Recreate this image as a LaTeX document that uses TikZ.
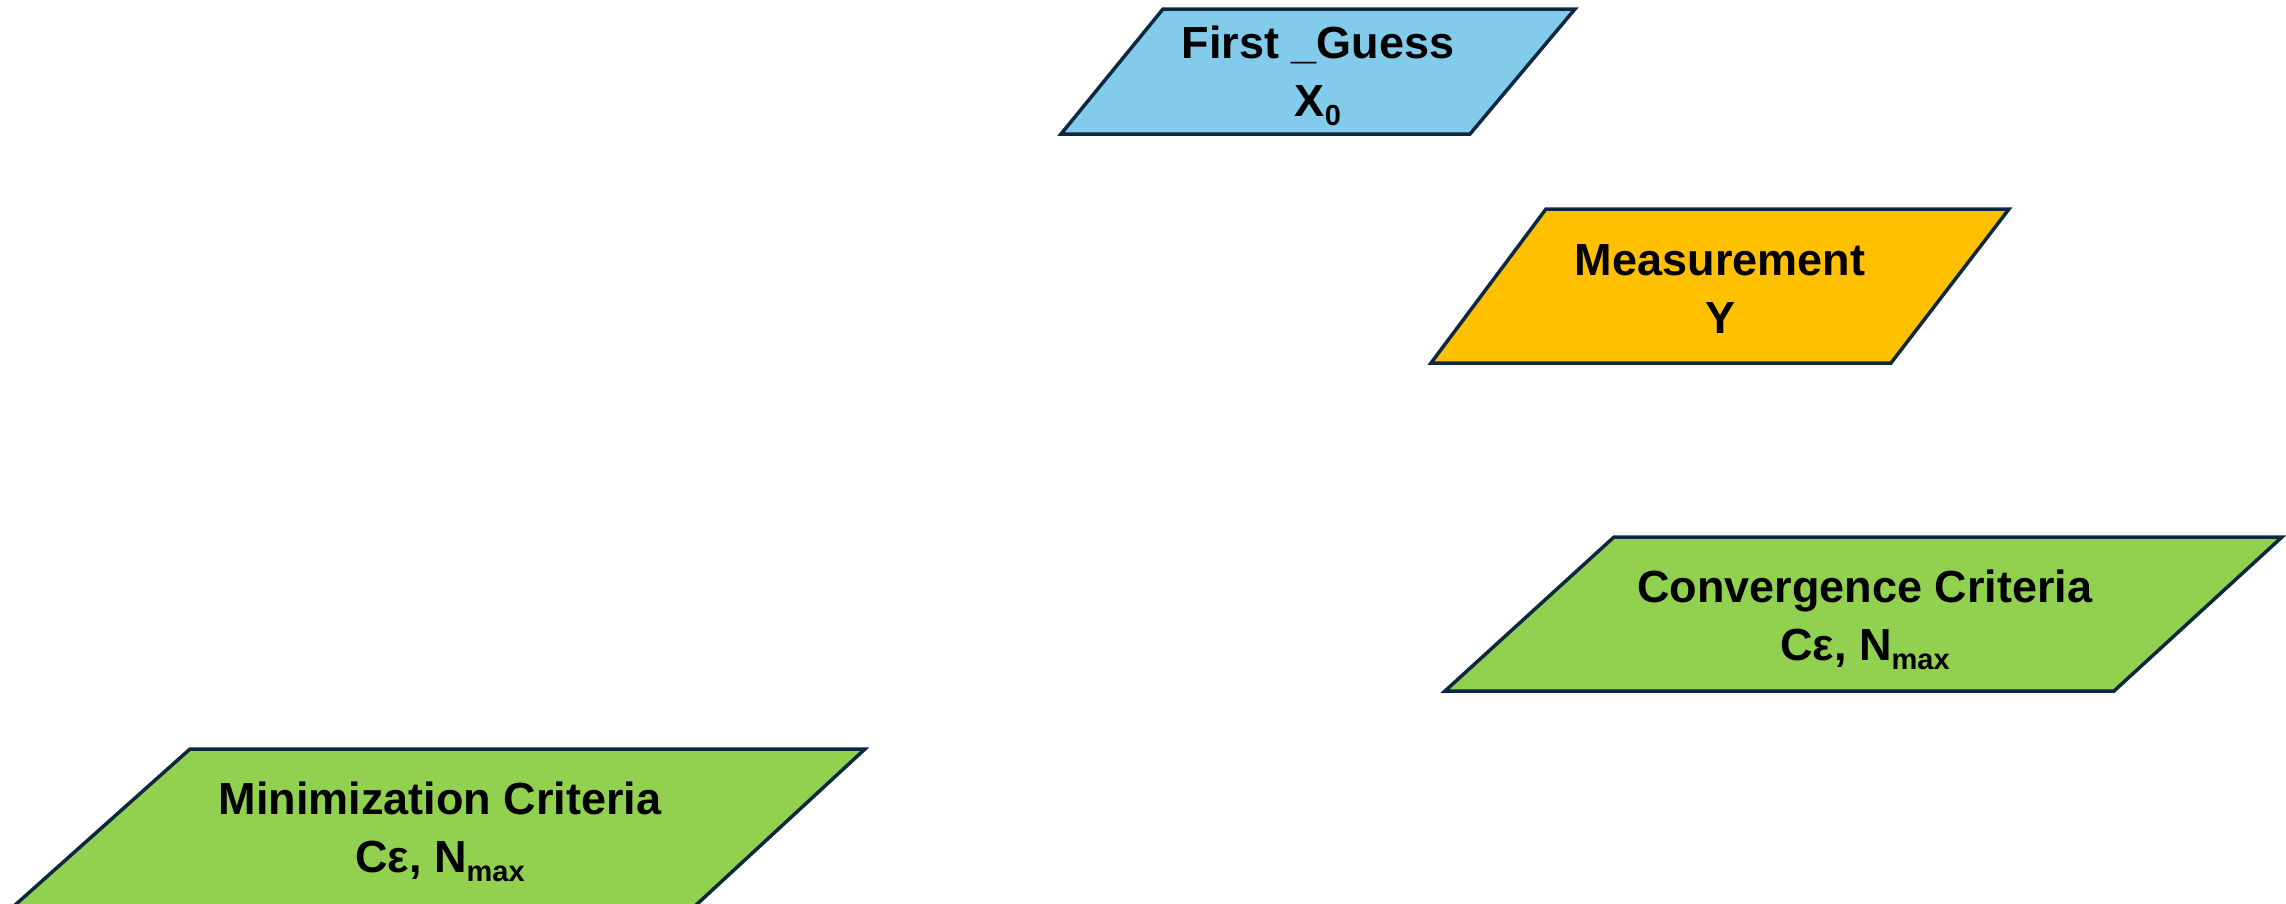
\documentclass[tikz,border=0pt]{standalone}
\usepackage{fontspec}
\setmainfont{Liberation Sans}
\definecolor{guessblue}{HTML}{83CBEB}
\definecolor{measgold}{HTML}{FFC000}
\definecolor{critgreen}{HTML}{92D050}
\definecolor{edgenavy}{HTML}{0E2841}
\tikzset{
  iobox/.style={draw=edgenavy, line width=3.5pt, line join=miter},
  iolabel/.style={align=center, inner sep=0pt, text=black,
    font=\bfseries\fontsize{45}{58}\selectfont},
}
% lowered, smaller index text (X_0, N_max)
\newcommand{\lowsub}[1]{\raisebox{-9pt}{\fontsize{29}{29}\selectfont #1}}

\begin{document}
\begin{tikzpicture}[x=1pt,y=-1pt]
\useasboundingbox (0,0) rectangle (2286,903);
\clip (0,0) rectangle (2286,903);
\fill[white] (0,0) rectangle (2286,903);

% input: first guess
\draw[iobox, fill=guessblue] (1163,9) -- (1575,9) -- (1470,134) -- (1061,134) -- cycle;
\node[iolabel] (guess) at (1318,76) {First \_Guess\\X\lowsub{0}};

% input: measurement
\draw[iobox, fill=measgold] (1546,209) -- (2009,209) -- (1891,363) -- (1431,363) -- cycle;
\node[iolabel] (meas) at (1720,289) {Measurement\\Y};

% input: convergence criteria
\draw[iobox, fill=critgreen] (1614,537) -- (2282,537) -- (2114,691) -- (1445,691) -- cycle;
\node[iolabel] (conv) at (1865,620) {Convergence Criteria\\Cε, N\lowsub{max}};

% input: minimization criteria (runs off the lower edge)
\draw[iobox, fill=critgreen] (190,749) -- (865,749) -- (695,906) -- (14,906) -- cycle;
\node[iolabel] (mini) at (440,832) {Minimization Criteria\\Cε, N\lowsub{max}};
\end{tikzpicture}
\end{document}
